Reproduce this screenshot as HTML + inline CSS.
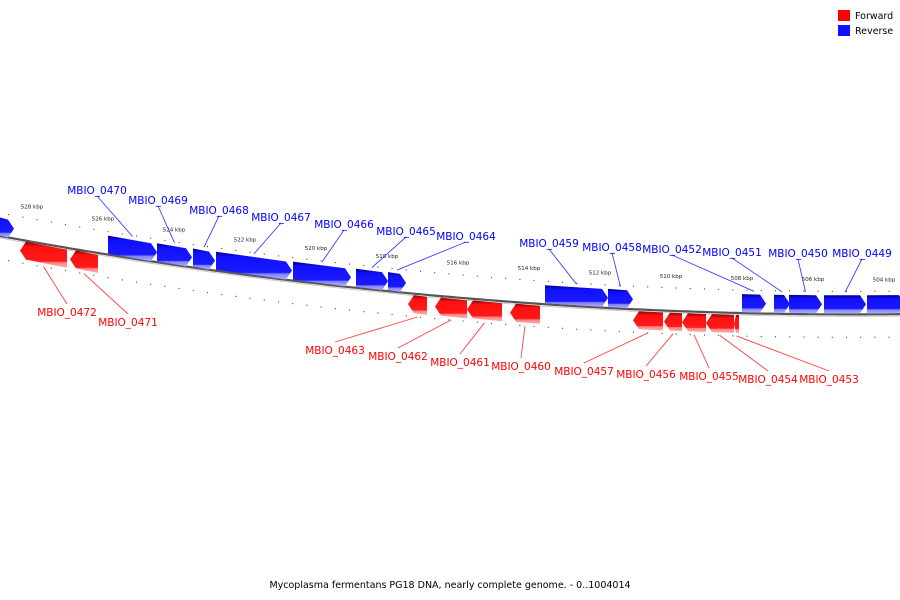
<!DOCTYPE html>
<html><head><meta charset="utf-8"><style>
body{margin:0;background:#fff}
svg{display:block;font-family:"DejaVu Sans","Liberation Sans",sans-serif}
</style></head><body>
<svg id="chart" width="900" height="600" viewBox="0 0 900 600" xmlns="http://www.w3.org/2000/svg">
<defs>
<linearGradient id="gb" x1="0" y1="0" x2="0" y2="1"><stop offset="0" stop-color="#00008a"/><stop offset="0.2" stop-color="#1010ff"/><stop offset="0.75" stop-color="#1a1aff"/><stop offset="0.8" stop-color="#8080ff"/><stop offset="1" stop-color="#b0b0ff"/></linearGradient>
<linearGradient id="gr" x1="0" y1="0" x2="0" y2="1"><stop offset="0" stop-color="#8a0000"/><stop offset="0.2" stop-color="#ff1010"/><stop offset="0.75" stop-color="#ff1a1a"/><stop offset="0.8" stop-color="#ff8080"/><stop offset="1" stop-color="#ffb0b0"/></linearGradient>
<linearGradient id="ga" x1="0" y1="0" x2="0" y2="1"><stop offset="0" stop-color="#444"/><stop offset="0.5" stop-color="#999"/><stop offset="1" stop-color="#ddd"/></linearGradient>
</defs>
<g id="axis"></g>
<g id="ticks"></g>
<g id="genes"></g>
<g id="labels"></g>
<g>
<rect x="838" y="10" width="12" height="11" fill="#ff0000"/>
<text x="855" y="19" font-size="9.5" fill="#000">Forward</text>
<rect x="838" y="25" width="12" height="11" fill="#1010ff"/>
<text x="855" y="34" font-size="9.5" fill="#000">Reverse</text>
</g>
<text x="450" y="588" font-size="9.5" text-anchor="middle" fill="#000">Mycoplasma fermentans PG18 DNA, nearly complete genome. - 0..1004014</text>
</svg>
<script>
// gene data (kbp positions, strand, label)
const geneNames = ["","MBIO_0470","MBIO_0469","MBIO_0468","MBIO_0467","MBIO_0466","MBIO_0465","MBIO_0464","MBIO_0459","MBIO_0458","MBIO_0452","MBIO_0451","MBIO_0450","MBIO_0449","",
  "MBIO_0472","MBIO_0471","MBIO_0463","MBIO_0462","MBIO_0461","MBIO_0460","MBIO_0457","MBIO_0456","MBIO_0455","MBIO_0454","MBIO_0453"];
const geneStartX = [-5,108,157,193,216,293,356,388,545,608,742,774,789,824,867, 20,70,408,435,467,510,633,664,682,706,734];
const geneEndX   = [14,157,192,215,292,351,388,406,608,633,766,790,822,866,905, 67,98,427,467,502,540,663,682,706,734,739];
const geneStrand = ["r","r","r","r","r","r","r","r","r","r","r","r","r","r","r","f","f","f","f","f","f","f","f","f","f","f"];
const labelX = [0,97,158,219,281,344,406,466,549,612,672,732,798,862, 0, 67,128,335,398,460,521,584,646,709,768,829];
const labelY = [0,190,200,210,217,224,231,236,243,247,249,252,253,253, 0, 312,322,350,356,362,366,371,374,376,379,379];
const tickKbp = [528,526,524,522,520,518,516,514,512,510,508,506,504];
const tickLabels = ["528 kbp","526 kbp","524 kbp","522 kbp","520 kbp","518 kbp","516 kbp","514 kbp","512 kbp","510 kbp","508 kbp","506 kbp","504 kbp"];

const NS="http://www.w3.org/2000/svg";
function kx(k){return 30+(528-k)*35.5;}
function ay(x){return 236+0.184*x-1.08e-4*x*x;}
function mk(t,a,p){const e=document.createElementNS(NS,t);for(const k in a)e.setAttribute(k,a[k]);p.appendChild(e);return e;}

// axis
const axG=document.getElementById('axis');
let d="";for(let x=-5;x<=905;x+=5){d+=(x===-5?"M":"L")+x+" "+ay(x).toFixed(1);}
let p=mk('path',{d:d,stroke:"#555",'stroke-width':2.2,fill:"none"},axG);

p=mk('path',{d:d,stroke:"#ccc",'stroke-width':1,fill:"none",transform:"translate(0,2)"},axG);


// ticks
const tG=document.getElementById('ticks');
for(let k=529;k>=502;k-=0.4){
  const kk=Math.round(k*10)/10, x=kx(kk); if(x<-5||x>905)continue;
  const major=Math.abs(kk-Math.round(kk))<0.01 && Math.round(kk)%2===0;
  [-23,23].forEach(off=>{
    const y=ay(x)+off;
    const t=mk('line',{x1:x,y1:major?y-3:y-0.6,x2:major?x-0.6:x,y2:major?y+3:y+0.6,stroke:major?"#000":"#555",'stroke-width':major?1.4:1.1},tG);
    
    
  });
}
tickKbp.forEach((k,i)=>{const x=kx(k);
  const t=mk('text',{x:x+2,y:ay(x)-33,'font-size':5.5,'text-anchor':'middle',fill:"#222"},tG);t.textContent=tickLabels[i];
  
  
});

// genes
const gG=document.getElementById('genes'), lG=document.getElementById('labels');
geneNames.forEach((n,i)=>{
  const x1=geneStartX[i],x2=geneEndX[i],f=geneStrand[i]==="f";
  const t1=f?2:-19,b1=f?20:-1;
  const y1=ay(x1),y2=ay(x2),h=Math.min(6,(x2-x1)*0.4);
  let pts;
  if(f){pts=[[x1+h,y1+h/3*0+t1],[x2,y2+t1],[x2,y2+b1],[x1+h,y1+b1],[x1,y1+(t1+b1)/2]];}
  else{pts=[[x1,y1+t1],[x2-h,y2+t1],[x2,y2+(t1+b1)/2],[x2-h,y2+b1],[x1,y1+b1]];}
  const g=mk('polygon',{points:pts.map(q=>q[0].toFixed(1)+","+q[1].toFixed(1)).join(" "),fill:f?"url(#gr)":"url(#gb)"},gG);
  
  
  if(!n)return;
  const col=f?"#ff0000":"#0000ff", lcol=f?"#ff4040":"#4040ff";
  const mx=(x1+x2)/2, my=ay(mx)+(f?b1+3:t1-3);
  const ly=f?labelY[i]-8:labelY[i]+6;
  const ln=mk('line',{x1:labelX[i],y1:ly,x2:mx,y2:my,stroke:lcol,'stroke-width':0.9},lG);
  
  
  const tx=mk('text',{x:labelX[i],y:labelY[i]+4,'font-size':10.5,'text-anchor':'middle',fill:col},lG);
  tx.textContent=n;
  
  
});
</script>
</body></html>
